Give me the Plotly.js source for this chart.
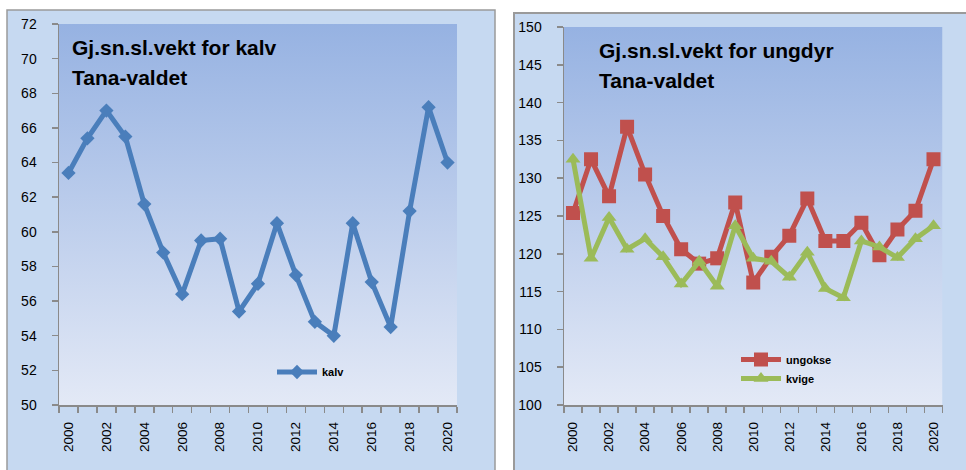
<!DOCTYPE html>
<html>
<head>
<meta charset="utf-8">
<script src="https://cdn.plot.ly/plotly-3.0.1.min.js"></script>
<style>
html,body{margin:0;padding:0;background:#fff;}
#chart{width:966px;height:470px;}
</style>
</head>
<body>
<div id="chart"></div>
<script>
// ---- data ----
const years = [2000,2001,2002,2003,2004,2005,2006,2007,2008,2009,2010,2011,2012,2013,2014,2015,2016,2017,2018,2019,2020];
const kalv = [63.4,65.4,67.0,65.5,61.6,58.8,56.4,59.5,59.6,55.4,57.0,60.5,57.5,54.8,54.0,60.5,57.1,54.5,61.2,67.2,64.0];
const ungokse = [125.4,132.5,127.6,136.8,130.5,125.0,120.6,118.7,119.4,126.8,116.2,119.6,122.4,127.3,121.7,121.7,124.1,119.8,123.2,125.7,132.5];
const kvige = [132.5,119.4,124.8,120.6,122.0,119.6,116.0,119.0,115.7,123.7,119.4,119.0,116.9,120.2,115.4,114.2,121.7,120.9,119.5,122.0,123.7];
const seriesNames = ["kalv","ungokse","kvige"];
const titleLeft = ["Gj.sn.sl.vekt for kalv","Tana-valdet"];
const titleRight = ["Gj.sn.sl.vekt for ungdyr","Tana-valdet"];
const labelYears = years.filter(y => y % 2 === 0);

// ---- styling ----
const W = 966, H = 470;
const px = v => v / W;
const py = v => (H - v) / H;
const FONT = "Liberation Sans, Arial, sans-serif";
const AXC = "#8a8a8a";
const grad = "data:image/svg+xml;utf8," + encodeURIComponent(
  "<svg xmlns='http://www.w3.org/2000/svg' width='100' height='100' preserveAspectRatio='none'>" +
  "<defs><linearGradient id='g' x1='0' y1='0' x2='0' y2='1'>" +
  "<stop offset='0' stop-color='#96b2e2'/><stop offset='1' stop-color='#e3e9f6'/>" +
  "</linearGradient></defs><rect width='100' height='100' fill='url(#g)'/></svg>");

function xax(domain){
  return {
    domain: domain, type: "linear", range: [1999.5, 2020.5],
    tickmode: "array", tickvals: labelYears, ticktext: labelYears.map(String),
    ticks: "", tickangle: -90, ticklabelstandoff: 10,
    tickfont: {family: FONT, size: 13.5, color: "#000"},
    showline: true, linecolor: AXC, linewidth: 1.5, showgrid: false, zeroline: false,
    minor: {tick0: 1999.5, dtick: 1, ticks: "outside", ticklen: 6, tickcolor: AXC, tickwidth: 1.5, showgrid: false},
    fixedrange: true
  };
}
function yax(domain, range, dtick){
  return {
    domain: domain, range: range, dtick: dtick, tick0: range[0],
    ticks: "outside", ticklen: 6, tickcolor: AXC, tickwidth: 1.5,
    ticklabelstandoff: 12,
    tickfont: {family: FONT, size: 14, color: "#000"},
    showline: true, linecolor: AXC, linewidth: 1.5, showgrid: false, zeroline: false,
    fixedrange: true
  };
}

const traces = [
  {x: years, y: kalv, name: seriesNames[0], type: "scatter", mode: "lines+markers",
   xaxis: "x", yaxis: "y", legend: "legend",
   line: {color: "#4a7ebb", width: 5}, marker: {symbol: "diamond", size: 11, color: "#4a7ebb"}},
  {x: years, y: ungokse, name: seriesNames[1], type: "scatter", mode: "lines+markers",
   xaxis: "x2", yaxis: "y2", legend: "legend2",
   line: {color: "#c0504d", width: 5}, marker: {symbol: "square", size: 14, color: "#c0504d"}},
  {x: years, y: kvige, name: seriesNames[2], type: "scatter", mode: "lines+markers",
   xaxis: "x2", yaxis: "y2", legend: "legend2",
   line: {color: "#9bbb59", width: 5}, marker: {symbol: "triangle-up", size: 13, color: "#9bbb59"}}
];

const ld = [px(59), px(457)], ldy = [py(405), py(24)];
const rd = [px(564), px(942.5)], rdy = [py(405), py(27)];

function titleAnn(text, x, yc){
  return {text: "<b>" + text + "</b>", xref: "paper", yref: "paper", x: px(x), y: py(yc),
    xanchor: "left", yanchor: "middle", showarrow: false,
    font: {family: FONT, size: 21, color: "#000"}};
}

const legFont = {family: FONT, size: 11, color: "#000", weight: "bold"};
const layout = {
  width: W, height: H,
  margin: {l: 0, r: 0, t: 0, b: 0},
  paper_bgcolor: "#ffffff", plot_bgcolor: "rgba(0,0,0,0)",
  showlegend: true,
  xaxis: xax(ld), yaxis: yax(ldy, [50, 72], 2),
  xaxis2: Object.assign(xax(rd), {anchor: "y2"}),
  yaxis2: Object.assign(yax(rdy, [100, 150], 5), {anchor: "x2"}),
  legend: {x: px(272), y: py(372), xanchor: "left", yanchor: "middle", bgcolor: "rgba(0,0,0,0)",
    font: legFont, itemwidth: 40},
  legend2: {x: px(736), y: py(369), xanchor: "left", yanchor: "middle", bgcolor: "rgba(0,0,0,0)",
    font: legFont, itemwidth: 40, tracegroupgap: 0},
  shapes: [
    {type: "rect", xref: "paper", yref: "paper", x0: px(7), x1: px(495), y0: -0.05, y1: py(10),
     fillcolor: "#c6d9f1", line: {color: "#9a9a9a", width: 1.5}, layer: "below"},
    {type: "rect", xref: "paper", yref: "paper", x0: px(514), x1: 1.05, y0: -0.05, y1: py(13),
     fillcolor: "#c6d9f1", line: {color: "#9a9a9a", width: 2}, layer: "below"}
  ],
  images: [
    {source: grad, xref: "x domain", yref: "y domain", x: 0, y: 1, sizex: 1, sizey: 1,
     xanchor: "left", yanchor: "top", sizing: "stretch", layer: "below"},
    {source: grad, xref: "x2 domain", yref: "y2 domain", x: 0, y: 1, sizex: 1, sizey: 1,
     xanchor: "left", yanchor: "top", sizing: "stretch", layer: "below"}
  ],
  annotations: [
    titleAnn(titleLeft[0], 70, 47.5), titleAnn(titleLeft[1], 70, 77.5),
    titleAnn(titleRight[0], 597, 50.5), titleAnn(titleRight[1], 597, 80.5)
  ]
};

Plotly.newPlot("chart", traces, layout, {displayModeBar: false, staticPlot: true});
</script>
</body>
</html>
